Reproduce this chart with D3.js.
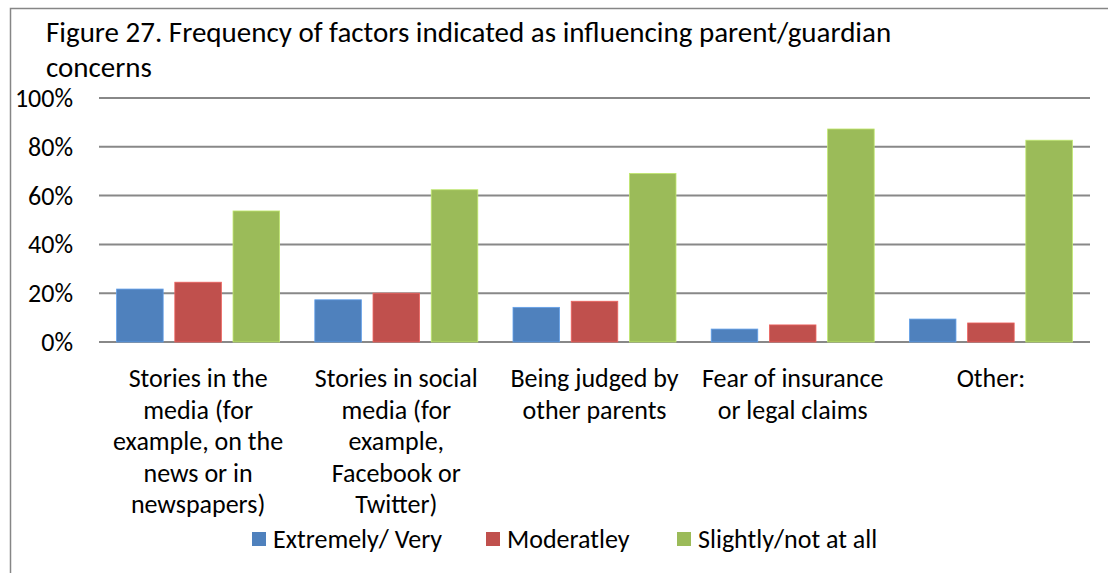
<!DOCTYPE html>
<html>
<head>
<meta charset="utf-8">
<script src="https://cdn.jsdelivr.net/npm/d3@7"></script>
<style>
  body { margin: 0; background: #fff; }
  text { font-family: Calibri, Carlito, Lato, "Open Sans", sans-serif; fill: #000; }
</style>
</head>
<body>
<svg id="chart" width="1108" height="573"></svg>
<script>
// chart data
const categories = [
  ['Stories in the', 'media (for', 'example, on the', 'news or in', 'newspapers)'],
  ['Stories in social', 'media (for', 'example,', 'Facebook or', 'Twitter)'],
  ['Being judged by', 'other parents'],
  ['Fear of insurance', 'or legal claims'],
  ['Other:']
];
const seriesNames = ['Extremely/ Very', 'Moderatley', 'Slightly/not at all'];
const extremelyVery = [21.7, 17.3, 14.2, 5.3, 9.4];
const moderately = [24.5, 20.0, 16.7, 7.0, 7.8];
const slightlyNotAtAll = [53.7, 62.4, 69.1, 87.3, 82.7];
const yTicks = [0, 20, 40, 60, 80, 100];
const colors = ['#4F81BD', '#C0504D', '#9BBB59'];

const series = [extremelyVery, moderately, slightlyNotAtAll];

const svg = d3.select('#chart');
const plot = { left: 99, right: 1090, top: 98, bottom: 342 };

// frame (left and top edges visible)
svg.append('path')
  .attr('d', 'M10.5,573 L10.5,8.5 L1108,8.5')
  .attr('fill', 'none')
  .attr('stroke', '#868686')
  .attr('stroke-width', 1.5);

// title
const title = svg.append('text')
  .attr('font-size', 29);
title.append('tspan').attr('x', 46).attr('y', 42)
  .text('Figure 27. Frequency of factors indicated as influencing parent/guardian');
title.append('tspan').attr('x', 46).attr('y', 77)
  .text('concerns');

const x = d3.scaleBand()
  .domain(d3.range(categories.length))
  .range([plot.left, plot.right]);

const xInner = d3.scaleBand()
  .domain(d3.range(series.length))
  .range([17.6, x.bandwidth() - 17.6])
  .paddingInner(0.2);

const y = d3.scaleLinear()
  .domain([0, 100])
  .range([plot.bottom, plot.top]);

// gridlines
svg.append('g')
  .selectAll('line')
  .data(yTicks)
  .join('line')
  .attr('x1', plot.left)
  .attr('x2', plot.right)
  .attr('y1', d => y(d))
  .attr('y2', d => y(d))
  .attr('stroke', '#888')
  .attr('stroke-width', 2);

// y labels
svg.append('g')
  .selectAll('text')
  .data(yTicks)
  .join('text')
  .attr('x', 73)
  .attr('y', d => y(d) + 9)
  .attr('text-anchor', 'end')
  .attr('font-size', 26)
  .text(d => d + '%');

// bars
series.forEach((values, si) => {
  svg.append('g')
    .selectAll('rect')
    .data(values)
    .join('rect')
    .attr('x', (d, i) => x(i) + xInner(si))
    .attr('y', d => y(d))
    .attr('width', xInner.bandwidth())
    .attr('height', d => y(0) - y(d))
    .attr('fill', colors[si])
    .attr('stroke', d3.color(colors[si]).brighter(0.6))
    .attr('stroke-width', 0.8);
});

// category labels
categories.forEach((lines, i) => {
  const t = svg.append('text')
    .attr('text-anchor', 'middle')
    .attr('font-size', 26);
  lines.forEach((line, li) => {
    t.append('tspan')
      .attr('x', x(i) + x.bandwidth() / 2)
      .attr('y', 387 + li * 31.5)
      .text(line);
  });
});

// legend
const legendX = [252, 486, 677];
const legend = svg.append('g');
seriesNames.forEach((name, i) => {
  legend.append('rect')
    .attr('x', legendX[i])
    .attr('y', 532)
    .attr('width', 14)
    .attr('height', 14)
    .attr('fill', colors[i]);
  legend.append('text')
    .attr('x', legendX[i] + 21)
    .attr('y', 548)
    .attr('font-size', 26)
    .text(name);
});
</script>
</body>
</html>
